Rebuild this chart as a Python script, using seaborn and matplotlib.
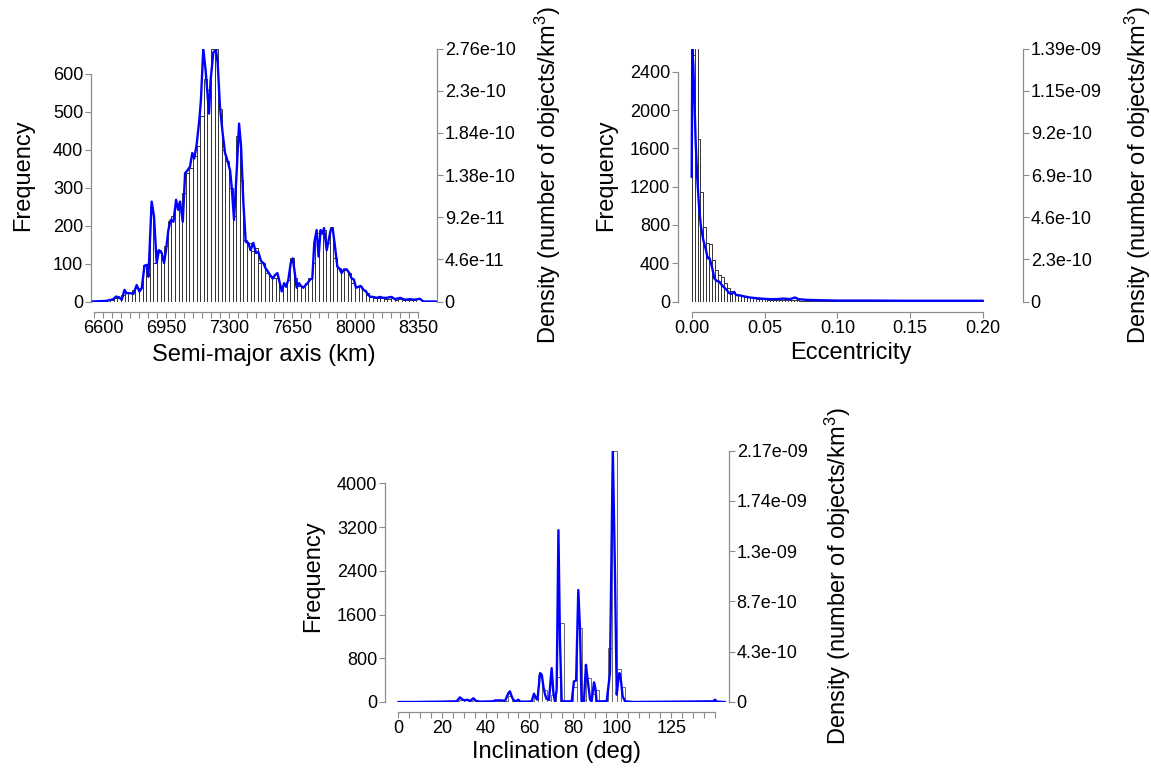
import matplotlib
matplotlib.use("Agg")
import matplotlib.pyplot as plt
import numpy as np
import pandas as pd
import seaborn as sns

# ------------------------------------------------------------------ data
# Semi-major axis histogram (20 km bins starting at 6600 km)
sma_bin_start = 6600
sma_bin_width = 20
sma_counts = [2, 3, 5, 10, 8,
              18, 22, 22, 31, 35, 35, 97, 92, 250, 101,
              136, 110, 145, 211, 224, 260, 242, 286, 338, 352,
              383, 409, 488, 587, 558, 664, 666, 508, 400, 369,
              299, 224, 435, 321, 163, 154, 132, 140, 101, 101,
              75, 66, 62, 62, 40, 44, 57, 114, 62, 40,
              40, 48, 62, 101, 180, 185, 189, 154, 196, 114,
              88, 84, 84, 75, 48, 40, 40, 31, 22, 13,
              10, 8, 9, 7, 6, 8, 5, 6, 4, 5, 4, 3]
# Semi-major axis density curve (km, density in 1e-10 objects/km^3)
sma_line_km = [6541, 6620, 6657, 6672, 6691, 6704, 6719, 6731, 6750, 6769,
               6787, 6802, 6815, 6830, 6843, 6852, 6870, 6883, 6898, 6911,
               6926, 6939, 6950, 6963, 6976, 6991, 7006, 7017, 7028, 7043,
               7056, 7069, 7083, 7096, 7107, 7120, 7135, 7144, 7157, 7170,
               7189, 7198, 7213, 7228, 7237, 7250, 7265, 7278, 7291, 7306,
               7315, 7328, 7343, 7356, 7367, 7380, 7393, 7407, 7420, 7435,
               7450, 7463, 7478, 7491, 7504, 7515, 7528, 7543, 7556, 7569,
               7580, 7593, 7606, 7617, 7630, 7643, 7654, 7663, 7676, 7689,
               7700, 7713, 7726, 7737, 7750, 7763, 7774, 7787, 7798, 7809,
               7820, 7828, 7843, 7854, 7865, 7876, 7889, 7902, 7913, 7926,
               7939, 7954, 7969, 7982, 7994, 8006, 8019, 8031, 8046, 8061,
               8074, 8087, 8102, 8120, 8139, 8157, 8176, 8204, 8222, 8250,
               8278, 8306, 8333, 8361, 8380, 8455]
sma_line_dens_e10 = [0, 0.007, 0.025, 0.054, 0.044, 0.018, 0.127, 0.091, 0.091, 0.084,
                     0.18, 0.109, 0.145, 0.39, 0.40, 0.27, 1.09, 0.93, 0.42, 0.56,
                     0.53, 0.42, 0.56, 0.78, 0.89, 0.87, 1.11, 1.00, 1.09, 0.87,
                     1.40, 1.43, 1.47, 1.62, 1.56, 1.71, 1.98, 2.20, 2.76, 2.52,
                     2.05, 2.42, 2.72, 2.74, 2.60, 2.12, 1.83, 1.62, 1.54, 1.43,
                     1.25, 0.89, 1.43, 1.94, 1.69, 1.07, 0.65, 0.64, 0.56, 0.64,
                     0.53, 0.54, 0.44, 0.42, 0.36, 0.33, 0.29, 0.25, 0.29, 0.31,
                     0.22, 0.11, 0.20, 0.16, 0.24, 0.42, 0.47, 0.35, 0.15, 0.20,
                     0.17, 0.15, 0.18, 0.20, 0.24, 0.25, 0.64, 0.78, 0.49, 0.78,
                     0.74, 0.80, 0.56, 0.67, 0.78, 0.80, 0.60, 0.38, 0.36, 0.31,
                     0.35, 0.35, 0.31, 0.25, 0.24, 0.15, 0.16, 0.17, 0.13, 0.11,
                     0.07, 0.05, 0.05, 0.04, 0.05, 0.04, 0.04, 0.05, 0.025, 0.04,
                     0.02, 0.025, 0.02, 0.03, 0, 0]
sma_xticks = list(range(6550, 8351, 50))
sma_xlabels = {6600: "6600", 6950: "6950", 7300: "7300", 7650: "7650",
               8000: "8000", 8350: "8350"}
sma_yticks = [0, 100, 200, 300, 400, 500, 600]
sma_dens_labels = ["0", "4.6e-11", "9.2e-11", "1.38e-10", "1.84e-10", "2.3e-10", "2.76e-10"]

# Eccentricity histogram (0.002 bins starting at 0)
ecc_bin_start = 0.0
ecc_bin_width = 0.002
ecc_counts = [2574, 2643, 1694, 1148, 783, 609, 602, 435, 330, 278,
              261, 191, 146, 111, 104, 77, 70, 59, 52, 45,
              42, 35, 30, 28, 25, 22, 20, 18, 17, 15,
              14, 13, 12, 12, 14, 16, 12, 9, 8, 7,
              6, 5, 5, 4, 4, 4, 3, 3, 3, 3,
              2, 2, 2, 2, 2, 2, 2, 1, 1, 1,
              1, 1, 1, 1, 1, 1, 1, 1, 1, 1,
              1, 1, 1, 1, 1, 1, 1, 1, 1, 1,
              1, 1, 1, 1, 1, 1, 1, 1, 1, 1,
              1, 1, 1, 1, 1, 1, 1, 1, 1, 1,
              0, 0, 0, 0, 0, 0, 0, 0, 0, 0]
ecc_line_e = [0.0, 0.0004, 0.0011, 0.0018, 0.0027, 0.0039, 0.0052, 0.0064, 0.0080, 0.0098,
              0.0110, 0.0121, 0.0133, 0.0144, 0.0155, 0.0171, 0.0190, 0.0206, 0.0222, 0.0240,
              0.0258, 0.0274, 0.0291, 0.0304, 0.0332, 0.0366, 0.0400, 0.0446, 0.0492, 0.0538,
              0.0584, 0.0629, 0.0675, 0.0710, 0.0732, 0.0789, 0.0881, 0.0995, 0.1225, 0.1454,
              0.1682, 0.2000]
ecc_line_dens_e10 = [6.84, 13.9, 13.04, 11.22, 8.85, 6.66, 5.02, 4.10, 3.37, 2.83,
                     2.37, 2.41, 2.10, 1.73, 1.28, 1.13, 1.09, 0.91, 0.78, 0.64,
                     0.46, 0.42, 0.53, 0.36, 0.33, 0.27, 0.22, 0.18, 0.15, 0.13,
                     0.13, 0.16, 0.13, 0.22, 0.13, 0.09, 0.07, 0.05, 0.05, 0.04,
                     0.04, 0.04]
ecc_xticks = [0.0, 0.05, 0.10, 0.15, 0.20]
ecc_xlabels = {0.0: "0.00", 0.05: "0.05", 0.10: "0.10", 0.15: "0.15", 0.20: "0.20"}
ecc_yticks = [0, 400, 800, 1200, 1600, 2000, 2400]
ecc_dens_labels = ["0", "2.3e-10", "4.6e-10", "6.9e-10", "9.2e-10", "1.15e-09", "1.39e-09"]

# Inclination histogram (2 deg bins starting at 0)
inc_bin_start = 0
inc_bin_width = 2
inc_counts = [2, 1, 2, 1, 2, 1, 2, 2, 1, 2,
              3, 2, 3, 10, 45, 30, 20, 30, 8, 4,
              3, 5, 12, 10, 12, 110, 25, 15, 4, 4,
              10, 70, 495, 220, 30, 120, 451, 1437, 5, 10,
              280, 1346, 30, 433, 150, 219, 10, 15, 980, 4600,
              603, 268, 8, 2, 1, 1, 1, 1, 1, 1,
              1, 1, 1, 1, 1, 1, 1, 1, 1, 1,
              1, 2, 15, 2, 1]
inc_line_deg = [0, 6.9, 19.1, 26.7, 28.2, 29.5, 30.5, 31.6, 32.8, 34.4,
                35.6, 37.4, 43.5, 44.3, 46.6, 48.9, 50.4, 51.1, 52.2, 53.4,
                55.0, 55.7, 58.8, 61.1, 62.1, 63.0, 63.7, 64.9, 65.7, 66.4,
                67.2, 67.9, 69.0, 70.2, 71.0, 71.7, 72.5, 73.3, 74.0, 74.8,
                79.4, 80.4, 81.4, 82.4, 83.2, 83.9, 85.0, 85.9, 86.5, 87.8,
                88.5, 89.6, 90.2, 90.8, 95.4, 96.9, 98.2, 99.2, 100.0, 100.7,
                101.2, 101.8, 102.7, 103.8, 107.6, 144.2, 145.0, 145.8, 149.6]
inc_line_dens_e10 = [0, 0, 0.03, 0.06, 0.40, 0.20, 0.14, 0.20, 0.09, 0.32,
                     0.09, 0.03, 0.06, 0.14, 0.14, 0.11, 0.77, 0.92, 0.34, 0.03,
                     0.20, 0.03, 0.03, 0.06, 0.72, 0.34, 0.20, 2.49, 2.35, 1.35,
                     0.63, 0.26, 0.20, 2.92, 0.77, 0.06, 1.06, 14.82, 5.36, 0.06,
                     0.06, 1.78, 1.86, 9.66, 6.22, 0.06, 0.06, 3.21, 2.21, 0.20,
                     0.06, 1.69, 1.20, 0.06, 0.06, 2.49, 21.7, 11.09, 0.63, 1.92,
                     2.49, 2.06, 0.49, 0.06, 0, 0.06, 0.2, 0.03, 0]
inc_xticks = list(range(0, 146, 5))
inc_xlabels = {0: "0", 20: "20", 40: "40", 60: "60", 80: "80", 100: "100", 125: "125"}
inc_yticks = [0, 800, 1600, 2400, 3200, 4000]
inc_dens_labels = ["0", "4.3e-10", "8.7e-10", "1.3e-09", "1.74e-09", "2.17e-09"]

# ------------------------------------------------------------------ style
sns.set_style("ticks")
plt.rcParams["font.family"] = ["Liberation Sans", "DejaVu Sans"]
plt.rcParams["mathtext.default"] = "regular"
plt.rcParams["text.color"] = "black"
plt.rcParams["axes.labelcolor"] = "black"

GRAY = "#8c8c8c"
TICK_FS = 13
LABEL_FS = 17
DENS_LABEL = "Density (number of objects/km$^3$)"

fig = plt.figure(figsize=(11.51, 7.72), dpi=100)


def panel(rect, start, width, counts, lx, ly_e10, xlim, xticks, xlabels,
          yticks, dens_labels, xlabel, ylab_x, dlab_x, xlab_y,
          edgecolor="#333333"):
    ax = fig.add_axes(rect)
    counts = np.asarray(counts, dtype=float)
    n = len(counts)
    lo = start
    hi = start + width * n
    centers = start + width * (np.arange(n) + 0.5)
    hist_df = pd.DataFrame({"x": centers, "w": counts})
    sns.histplot(data=hist_df, x="x", weights="w", binwidth=width,
                 binrange=(lo, hi), ax=ax, color="white",
                 edgecolor=edgecolor, linewidth=0.7, alpha=1)
    dens = np.asarray(ly_e10) * 1e-10
    ax2 = ax.twinx()
    df = pd.DataFrame({"x": lx, "y": dens})
    sns.lineplot(data=df, x="x", y="y", ax=ax2, color="#0000ff",
                 linewidth=1.7, estimator=None, sort=False)

    dmax = dens.max()
    ax.set_xlim(*xlim)
    ax.set_ylim(0, counts.max())
    ax2.set_ylim(0, dmax)

    # spines
    ax.spines["top"].set_visible(False)
    ax.spines["right"].set_visible(False)
    ax.spines["bottom"].set_position(("outward", 7.5))
    ax.spines["bottom"].set_bounds(xticks[0], xticks[-1])
    ax.spines["left"].set_bounds(yticks[0], yticks[-1])
    for s in ["top", "left", "bottom"]:
        ax2.spines[s].set_visible(False)
    ax2.spines["right"].set_bounds(0, dmax)
    for sp in list(ax.spines.values()) + list(ax2.spines.values()):
        sp.set_color(GRAY)
        sp.set_linewidth(0.9)

    # ticks
    ax.set_xticks(xticks)
    ax.set_xticklabels([xlabels.get(t, "") for t in xticks])
    ax.set_yticks(yticks)
    ax.set_yticklabels([str(t) for t in yticks])
    dticks = np.linspace(0, dmax, len(dens_labels))
    ax2.set_yticks(dticks)
    ax2.set_yticklabels(dens_labels)
    for a in (ax, ax2):
        a.tick_params(axis="both", direction="out", length=4, width=0.8,
                      color=GRAY, labelcolor="black", labelsize=TICK_FS, pad=1.5)

    # labels
    ax.set_xlabel(xlabel, fontsize=LABEL_FS, color="black")
    ax.xaxis.label.set_va("center")
    ax.xaxis.set_label_coords(0.5, xlab_y)
    ax.set_ylabel("Frequency", fontsize=LABEL_FS, color="black")
    ax.yaxis.label.set_va("center")
    ax.yaxis.set_label_coords(ylab_x, 0.5)
    ax2.set_ylabel(DENS_LABEL, fontsize=LABEL_FS, color="black")
    ax2.yaxis.label.set_va("center")
    ax2.yaxis.set_label_coords(dlab_x, 0.5)
    return ax, ax2


panel([91 / 1151, 470.5 / 772, 346 / 1151, 253 / 772],
      sma_bin_start, sma_bin_width, sma_counts, sma_line_km, sma_line_dens_e10,
      (6533, 8456), sma_xticks, sma_xlabels, sma_yticks, sma_dens_labels,
      "Semi-major axis (km)", -0.195, 1.321, -0.211)

panel([678 / 1151, 470.5 / 772, 345 / 1151, 253 / 772],
      ecc_bin_start, ecc_bin_width, ecc_counts, ecc_line_e, ecc_line_dens_e10,
      (-0.0094, 0.2275), ecc_xticks, ecc_xlabels, ecc_yticks, ecc_dens_labels,
      "Eccentricity", -0.209, 1.333, -0.204)

panel([385 / 1151, 70 / 772, 344 / 1151, 251.5 / 772],
      inc_bin_start, inc_bin_width, inc_counts, inc_line_deg, inc_line_dens_e10,
      (-6.1, 151.4), inc_xticks, inc_xlabels, inc_yticks, inc_dens_labels,
      "Inclination (deg)", -0.209, 1.317, -0.199, edgecolor="#6a6a6a")

fig.savefig("out.png", dpi=100)
